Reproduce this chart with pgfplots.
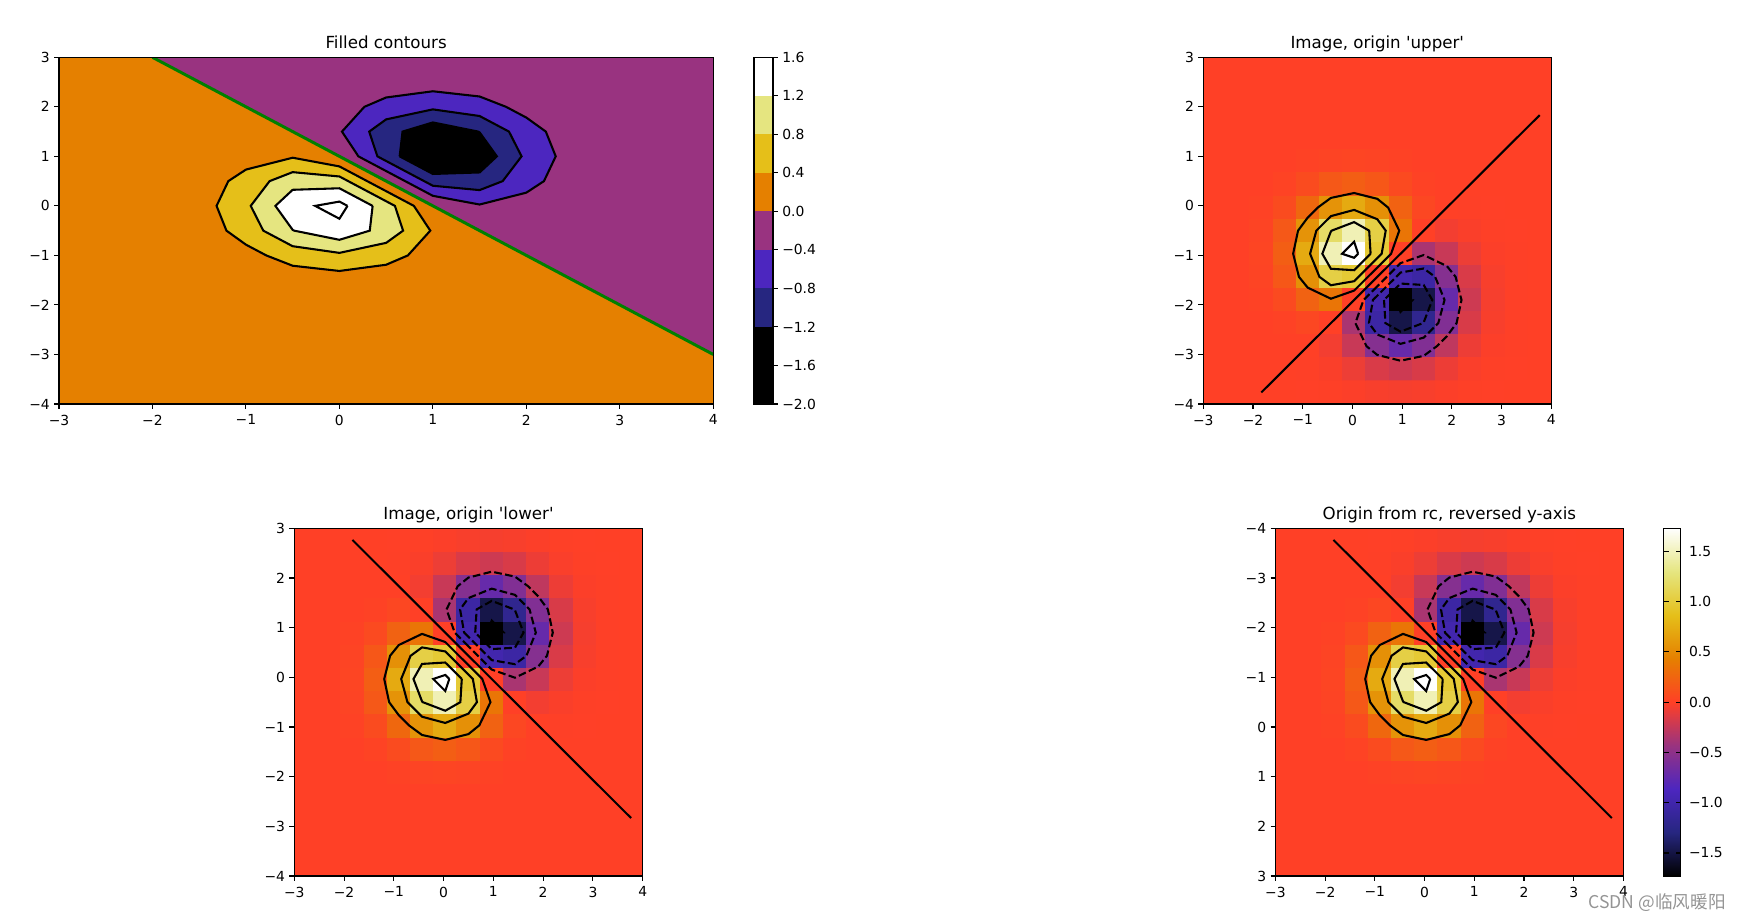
\documentclass[border=0pt]{standalone}
\usepackage{fontspec}
\setmainfont{DejaVu Sans}
\newfontfamily\plain{DejaVu Sans}
\newfontfamily\cjk{Noto Sans CJK SC}
\usepackage{pgfplots}
\usepackage{pgfplotstable}
\pgfplotsset{compat=1.18}

% CMRmap samples
\definecolor{cBlack}{rgb}{0,0,0}
\definecolor{cNavy}{rgb}{.15,.15,.5}
\definecolor{cIndigo}{rgb}{.3,.15,.75}
\definecolor{cPurple}{rgb}{.6,.2,.5}
\definecolor{cRed}{rgb}{1,.25,.15}
\definecolor{cOrange}{rgb}{.9,.5,0}
\definecolor{cGold}{rgb}{.9,.75,.1}
\definecolor{cPale}{rgb}{.9,.9,.5}

% image values, one line per row, y=-4 first
\pgfplotstableread[row sep=\\]{
z\\
0\\0\\0\\0\\0\\0\\0\\0\\0\\0\\0\\0\\0\\0\\0\\
0\\0\\0\\0\\0\\0\\0\\0\\0\\0\\0\\0\\0\\0\\0\\
0\\0\\0\\0\\.0001\\.0002\\.0002\\.0002\\.0001\\0\\0\\0\\0\\0\\0\\
0\\0\\.0001\\.0004\\.0014\\.0030\\.0039\\.0030\\.0014\\.0004\\.0001\\0\\0\\0\\0\\
0\\.0001\\.0007\\.0039\\.0135\\.0285\\.0366\\.0283\\.0132\\.0037\\.0006\\0\\0\\0\\0\\
0\\.0004\\.0039\\.0222\\.0775\\.1638\\.2094\\.1612\\.0737\\.0192\\.0025\\0\\-.0001\\0\\0\\
.0001\\.0014\\.0135\\.0775\\.2700\\.5691\\.7223\\.5445\\.2341\\.0491\\0\\-.0025\\-.0006\\-.0001\\0\\
.0002\\.0030\\.0285\\.1638\\.5691\\1.1909\\1.48\\1.0489\\.3622\\0\\-.0491\\-.0192\\-.0037\\-.0004\\0\\
.0003\\.0039\\.0365\\.2094\\.7223\\1.48\\1.7293\\.9846\\0\\-.3622\\-.2341\\-.0737\\-.0132\\-.0014\\-.0001\\
.0002\\.0030\\.0283\\.1612\\.5445\\1.0489\\.9846\\0\\-.9846\\-1.0489\\-.5445\\-.1612\\-.0283\\-.0030\\-.0002\\
.0001\\.0014\\.0132\\.0737\\.2341\\.3622\\0\\-.9846\\-1.7293\\-1.48\\-.7223\\-.2094\\-.0365\\-.0039\\-.0003\\
0\\.0004\\.0037\\.0192\\.0491\\0\\-.3622\\-1.0489\\-1.48\\-1.1909\\-.5691\\-.1638\\-.0285\\-.0030\\-.0002\\
0\\.0001\\.0006\\.0025\\0\\-.0491\\-.2341\\-.5445\\-.7223\\-.5691\\-.2700\\-.0775\\-.0135\\-.0014\\-.0001\\
0\\0\\.0001\\0\\-.0025\\-.0192\\-.0737\\-.1612\\-.2094\\-.1638\\-.0775\\-.0222\\-.0039\\-.0004\\0\\
0\\0\\0\\-.0001\\-.0006\\-.0037\\-.0132\\-.0283\\-.0365\\-.0285\\-.0135\\-.0039\\-.0007\\-.0001\\0\\
}\Ztab

% contour polygons in data coordinates
\pgfplotstableread{
x y
.5 .2969
.7969 0
.9725 -.5
.7328 -1
.5 -1.1885
0 -1.3142
-.5 -1.2086
-.7827 -1
-1 -.7827
-1.2086 -.5
-1.3142 0
-1.1885 .5
-1 .7328
-.5 .9725
0 .7969
.2969 .5
.5 .2969
}\Lpa
\pgfplotstableread{
x y
.5 .0937
.5937 0
.6812 -.5
.5 -.7467
0 -.9487
-.5 -.8143
-.8143 -.5
-.9487 0
-.7467 .5
-.5 .6812
0 .5937
.0937 .5
.5 .0937
}\Lpb
\pgfplotstableread{
x y
.3554 0
.3247 -.5
0 -.6848
-.4843 -.5
-.5 -.4843
-.6848 0
-.5 .3247
0 .3554
.3554 0
}\Lpc
\pgfplotstableread{
x y
.0868 0
0 -.2593
-.2593 0
0 .0868
.0868 0
}\Lpd
\pgfplotstableread{
x y
.5 .7031
.2031 1
.0275 1.5
.2672 2
.5 2.1885
1 2.3142
1.5 2.2086
1.7827 2
2 1.7827
2.2086 1.5
2.3142 1
2.1885 .5
2 .2672
1.5 .0275
1 .2031
.7031 .5
.5 .7031
}\Lna
\pgfplotstableread{
x y
.5 .9063
.4063 1
.3188 1.5
.5 1.7467
1 1.9487
1.5 1.8143
1.8143 1.5
1.9487 1
1.7467 .5
1.5 .3188
1 .4063
.9063 .5
.5 .9063
}\Lnb
\pgfplotstableread{
x y
.6446 1
.6753 1.5
1 1.6848
1.4843 1.5
1.5 1.4843
1.6848 1
1.5 .6753
1 .6446
.6446 1
}\Lnc
\pgfplotstableread{
x y
.9132 1
1 1.2593
1.2593 1
1 .9132
.9132 1
}\Lnd
\pgfplotstableread{
x y
-2 3
4 -3
}\Lzero

\pgfplotsset{
  every axis title shift=0pt,
  mpl/.style={
    scale only axis,
    enlargelimits=false,
    axis on top,
    font=\fontsize{6.94}{8}\selectfont,
    axis line style={line width=.55pt},
    tick style={black,line width=.55pt},
    tick align=outside,
    major tick length=2.43pt,
    minor tick num=0,
    xtick pos=bottom,
    ytick pos=left,
    xticklabel style={inner sep=0pt,yshift=-2.8pt},
    yticklabel style={inner sep=0pt,xshift=-2pt},
    title style={font=\plain\fontsize{8.33}{10}\selectfont,inner sep=0pt,yshift=4.17pt,anchor=base,at={(.5,1)}},
    xmin=-3,xmax=4,
    xtick={-3,...,4},
    xticklabels={−3,−2,−1,0,1,2,3,4},
  },
  cmr/.style={
    colormap={cmr}{rgb=(0,0,0) rgb=(.15,.15,.5) rgb=(.3,.15,.75) rgb=(.6,.2,.5)
      rgb=(1,.25,.15) rgb=(.9,.5,0) rgb=(.9,.75,.1) rgb=(.9,.9,.5) rgb=(1,1,1)},
    point meta min=-1.7293,point meta max=1.7293,
  },
  cline/.style={black,line width=1.04pt,line join=miter,no markers},
  nline/.style={cline,dash pattern=on 3.85pt off 1.66pt},
  band/.style={fill=#1,draw=none,no markers,forget plot},
  % matrix plot turns the y axis over, so the upright panels plot -y and label it
  upright/.style={y dir=reverse,ymin=-3,ymax=4,ytick={-3,...,4},yticklabels={3,2,1,0,−1,−2,−3,−4}},
}

% image and contour lines of an image panel
% #1 = y position of row, #2 = y position of vertex
\newcommand{\imgpanel}[2]{
  \addplot[band=cRed] coordinates {(-3,-4) (4,-4) (4,4) (-3,4)};
  \addplot[matrix plot,mesh/cols=15,mesh/ordering=x varies,point meta=explicit,forget plot]
    table[x index=0,y index=0,x expr={-3+(mod(\coordindex,15)+.5)*7/15},y expr={#1},meta=z]{\Ztab};
  \addplot[cline] table[x expr={14/15*\thisrow{x}+1/30},y expr={#2}]{\Lpa};
  \addplot[cline] table[x expr={14/15*\thisrow{x}+1/30},y expr={#2}]{\Lpb};
  \addplot[cline] table[x expr={14/15*\thisrow{x}+1/30},y expr={#2}]{\Lpc};
  \addplot[cline] table[x expr={14/15*\thisrow{x}+1/30},y expr={#2}]{\Lpd};
  \addplot[cline] table[x expr={14/15*\thisrow{x}+1/30},y expr={#2}]{\Lzero};
  \addplot[nline] table[x expr={14/15*\thisrow{x}+1/30},y expr={#2}]{\Lna};
  \addplot[nline] table[x expr={14/15*\thisrow{x}+1/30},y expr={#2}]{\Lnb};
  \addplot[nline] table[x expr={14/15*\thisrow{x}+1/30},y expr={#2}]{\Lnc};
  \addplot[nline] table[x expr={14/15*\thisrow{x}+1/30},y expr={#2}]{\Lnd};
}

\begin{document}
\begin{tikzpicture}[x=1pt,y=1pt]
  \useasboundingbox (0,0) rectangle (869.5,460.5);

  % filled contours
  \begin{axis}[mpl,at={(29.5pt,258.5pt)},anchor=south west,width=327.15pt,height=173.35pt,
      ymin=-4,ymax=3,ytick={-4,...,3},yticklabels={−4,−3,−2,−1,0,1,2,3},
      title={Filled contours}]
    \addplot[band=cOrange] coordinates {(-3,3) (-2,3) (4,-3) (4,-4) (-3,-4)};
    \addplot[band=cPurple] coordinates {(-2,3) (4,3) (4,-3)};
    \addplot[band=cGold] table{\Lpa};
    \addplot[band=cPale] table{\Lpb};
    \addplot[band=white] table{\Lpc};
    \addplot[band=cIndigo] table{\Lna};
    \addplot[band=cNavy] table{\Lnb};
    \addplot[band=cBlack] table{\Lnc};
    \addplot[cline] table{\Lpa};
    \addplot[cline] table{\Lpb};
    \addplot[cline] table{\Lpc};
    \addplot[cline] table{\Lpd};
    \addplot[cline] table{\Lna};
    \addplot[cline] table{\Lnb};
    \addplot[cline] table{\Lnc};
    \addplot[cline] table{\Lnd};
    \addplot[color={rgb,1:red,0;green,.5;blue,0},line width=1.5pt,no markers] table{\Lzero};
  \end{axis}

  % its colorbar
  \begin{axis}[mpl,at={(377pt,258.5pt)},anchor=south west,width=9.5pt,height=173.35pt,
      xmin=0,xmax=1,xtick=\empty,xticklabels={},
      ymin=-2,ymax=1.6,ytick={-2,-1.6,...,1.6},
      yticklabels={−2.0,−1.6,−1.2,−0.8,−0.4,0.0,0.4,0.8,1.2,1.6},
      ytick pos=right,yticklabel style={inner sep=0pt,xshift=4pt}]
    \addplot[band=cBlack] coordinates {(0,-2) (1,-2) (1,-1.2) (0,-1.2)};
    \addplot[band=cNavy] coordinates {(0,-1.2) (1,-1.2) (1,-.8) (0,-.8)};
    \addplot[band=cIndigo] coordinates {(0,-.8) (1,-.8) (1,-.4) (0,-.4)};
    \addplot[band=cPurple] coordinates {(0,-.4) (1,-.4) (1,0) (0,0)};
    \addplot[band=cOrange] coordinates {(0,0) (1,0) (1,.4) (0,.4)};
    \addplot[band=cGold] coordinates {(0,.4) (1,.4) (1,.8) (0,.8)};
    \addplot[band=cPale] coordinates {(0,.8) (1,.8) (1,1.2) (0,1.2)};
    \addplot[band=white] coordinates {(0,1.2) (1,1.2) (1,1.6) (0,1.6)};
  \end{axis}

  % origin upper
  \begin{axis}[mpl,cmr,upright,at={(601.65pt,258.5pt)},anchor=south west,width=174pt,height=173.35pt,
      title={Image, origin 'upper'}]
    \imgpanel{-3+(floor(\coordindex/15)+.5)*7/15}{14/15*\thisrow{y}+29/30}
  \end{axis}

  % origin lower
  \begin{axis}[mpl,cmr,upright,at={(147.15pt,22.5pt)},anchor=south west,width=174.2pt,height=173.85pt,
      title={Image, origin 'lower'}]
    \imgpanel{4-(floor(\coordindex/15)+.5)*7/15}{-14/15*\thisrow{y}+1/30}
  \end{axis}

  % reversed y axis
  \begin{axis}[mpl,cmr,at={(637.7pt,22.5pt)},anchor=south west,width=174pt,height=173.85pt,
      ymin=-4,ymax=3,y dir=reverse,ytick={-4,...,3},yticklabels={−4,−3,−2,−1,0,1,2,3},
      title={Origin from rc, reversed y-axis},
      colorbar,
      colorbar style={at={(1.1158,0)},anchor=south west,width=8.5pt,height=173.85pt,
        scale only axis,
        font=\fontsize{6.94}{8}\selectfont,
        ytick={-1.5,-1,...,1.5},
        yticklabels={−1.5,−1.0,−0.5,0.0,0.5,1.0,1.5},
        yticklabel style={inner sep=0pt,xshift=4pt},
        major tick length=2.43pt,
        tick style={black,line width=.55pt},
        axis line style={line width=.55pt}}]
    \imgpanel{3-(floor(\coordindex/15)+.5)*7/15}{-14/15*\thisrow{y}-29/30}
  \end{axis}

  \node[anchor=east,inner sep=0pt,text=black!42,font=\cjk\fontsize{8.8}{10}\selectfont] at (863,9) {CSDN @临风暖阳};
\end{tikzpicture}
\end{document}
